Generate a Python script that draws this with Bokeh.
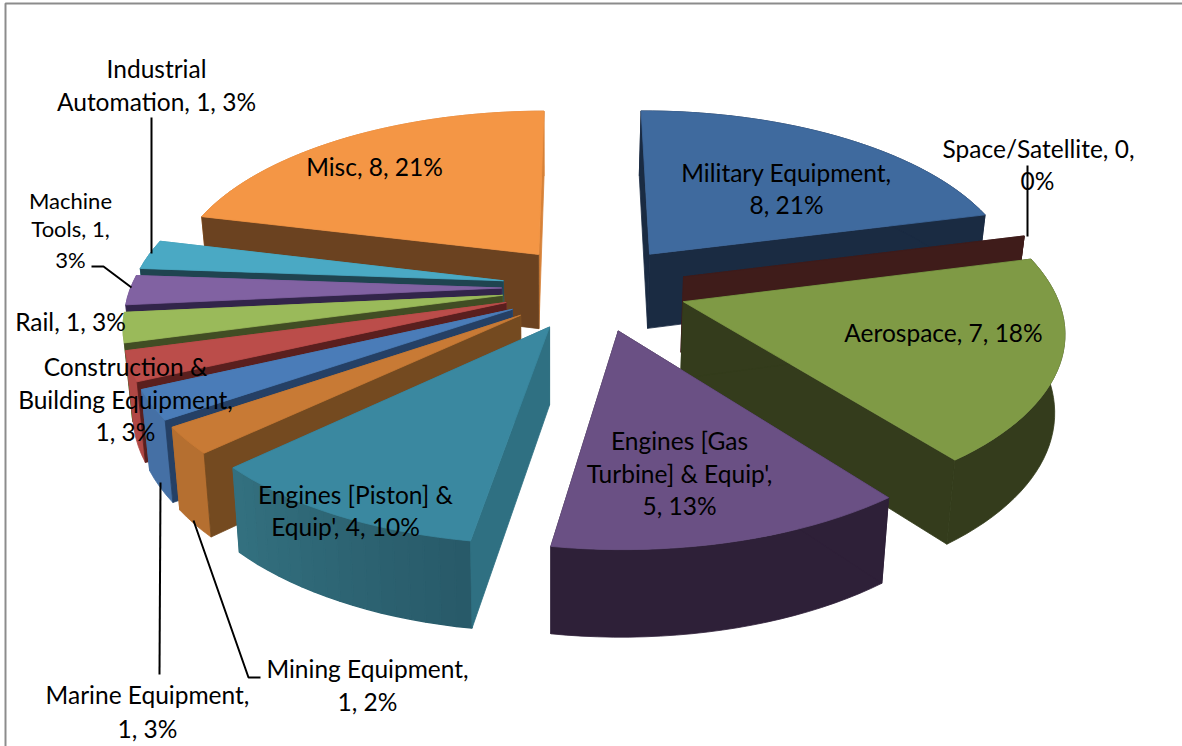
import math
from bokeh.plotting import figure
from bokeh.models import ColumnDataSource, Range1d
from bokeh.core.properties import value
from bokeh.embed import file_html
from bokeh.resources import INLINE

# Market split, clockwise from twelve o'clock
categories = ["Military Equipment", "Space/Satellite", "Aerospace",
              "Engines [Gas Turbine] & Equip'", "Engines [Piston] & Equip'",
              "Mining Equipment", "Marine Equipment",
              "Construction & Building Equipment", "Rail", "Machine Tools",
              "Industrial Automation", "Misc"]
amounts = [7.85, 0.0, 6.9, 4.85, 3.9, 0.9, 1.0, 1.0, 1.0, 1.0, 1.0, 7.85]

top_colors = ["#3f6a9e", "#a04a48", "#7f9a45", "#6a5084", "#3a88a0", "#c87a35",
              "#4a7cb8", "#bb4d4a", "#9aba5a", "#8162a2", "#4aa9c4", "#f49645"]
cut_colors = ["#1a2b42", "#3f1c1a", "#343c1c", "#2e2038", "#2f7082", "#744a20",
              "#254065", "#5a1f1e", "#414d24", "#32254a", "#1f4450", "#6b4220"]
rim_left = ["#1a2b42", "#3f1c1a", "#343c1c", "#2e2038", "#33707f", "#b56f30",
            "#4570a5", "#b04845", "#8aa84f", "#6f5590", "#3f94ac", "#d78238"]
rim_right = ["#1a2b42", "#3f1c1a", "#343c1c", "#2e2038", "#285a69", "#b56f30",
             "#4570a5", "#b04845", "#8aa84f", "#6f5590", "#3f94ac", "#d78238"]

# Label lines: text, centre x, centre y, font size
label_lines = [
    ("Industrial", 156, 68, 24.5), ("Automation, 1, 3%", 156, 101, 24.5),
    ("Machine", 70, 200, 22), ("Tools, 1,", 70, 228, 22), ("3%", 70, 259, 22),
    ("Rail, 1, 3%", 70, 321, 24.5),
    ("Construction &", 125, 366, 24.5), ("Building Equipment,", 125, 399, 24.5),
    ("1, 3%", 125, 431, 24.5),
    ("Engines [Piston] &", 355, 494, 24.5), ("Equip', 4, 10%", 345, 526, 24.5),
    ("Marine Equipment,", 147, 694, 24.5), ("1, 3%", 147, 728, 24.5),
    ("Mining Equipment,", 367, 668, 24.5), ("1, 2%", 367, 701, 24.5),
    ("Misc, 8, 21%", 374, 166, 24.5),
    ("Military Equipment,", 786, 172, 24.5), ("8, 21%", 786, 204, 24.5),
    ("Space/Satellite, 0,", 1038, 148, 24.5), ("0%", 1037, 180, 24.5),
    ("Aerospace, 7, 18%", 943, 332, 24.5),
    ("Engines [Gas", 679, 440, 24.5), ("Turbine] & Equip',", 679, 473, 24.5),
    ("5, 13%", 679, 505, 24.5),
]
leaders_x = [[151, 151], [91, 103, 131], [1027, 1027], [160, 159], [193, 248, 260]]
leaders_y = [[117, 253], [266, 266, 287], [165, 236], [482, 674], [520, 677, 677]]

# Perspective camera for the tilted disc
CX, CY = 594, 287
RX, RY = 371, 173
TILT = 0.145
EXPLODE = 0.25
TURN = -0.3
VANISH_X = 550
DEPTH, DEPTH_GROW = 76, 9.3


def project(u, v, lower=False):
    s = 1 / (1 - TILT * v)
    x = CX + RX * u * s
    y = CY + RY * v * s
    if lower:
        x = VANISH_X + (x - VANISH_X) * 0.98
        y += DEPTH + DEPTH_GROW * v
    return x, y


def mix(a, b, t):
    ca = [int(a[i:i + 2], 16) for i in (1, 3, 5)]
    cb = [int(b[i:i + 2], 16) for i in (1, 3, 5)]
    return "#%02x%02x%02x" % tuple(round(p + (q - p) * t) for p, q in zip(ca, cb))


faces = {"xs": [], "ys": [], "color": [], "edge": []}


def add(points, color, edge=0.8):
    faces["xs"].append([pt[0] for pt in points])
    faces["ys"].append([pt[1] for pt in points])
    faces["color"].append(color)
    faces["edge"].append(edge)


total = sum(amounts)
slices = []
running = 0
for i, amount in enumerate(amounts):
    start = running / total * 2 * math.pi + math.radians(TURN)
    running += amount
    end = running / total * 2 * math.pi + math.radians(TURN)
    slices.append((i, start, end))

for i, a, b in sorted(slices, key=lambda item: -math.cos((item[1] + item[2]) / 2)):
    mid = (a + b) / 2
    ou, ov = EXPLODE * math.sin(mid), -EXPLODE * math.cos(mid)
    n = max(2, int((b - a) / math.radians(2)))
    thetas = [a + (b - a) * j / n for j in range(n + 1)]
    rim = [(ou + math.sin(t), ov - math.cos(t)) for t in thetas]

    add([project(ou, ov), project(*rim[-1]), project(*rim[-1], True), project(ou, ov, True)],
        rim_left[i])

    # Outer wall: one polygon when flat, thin overlapping strips when shaded
    if rim_left[i] == rim_right[i]:
        add([project(*r) for r in rim] + [project(*r, True) for r in reversed(rim)], rim_left[i])
    else:
        strips = []
        for j in range(n):
            r0, r1 = rim[j], rim[j + 1]
            strips.append(([project(*r0), project(*r1), project(*r1, True), project(*r0, True)],
                           mix(rim_right[i], rim_left[i], j / max(n - 1, 1))))
        for pts, col in strips:
            add(pts, col, 1.4)

    add([project(ou, ov), project(*rim[0]), project(*rim[0], True), project(ou, ov, True)],
        cut_colors[i])
    if amounts[i] > 0:
        add([project(ou, ov)] + [project(*r) for r in rim], top_colors[i])

p = figure(width=1182, height=746, output_backend="svg", toolbar_location=None,
           x_range=Range1d(0, 1182), y_range=Range1d(746, 0),
           x_axis_type=None, y_axis_type=None, min_border=0,
           outline_line_color=None, background_fill_color="white",
           border_fill_color="white")
p.grid.visible = False

# Chart frame
p.line([5, 5, 1182], [746, 3, 3], line_color="#8c8c8c", line_width=2)

source = ColumnDataSource(faces)
p.patches("xs", "ys", source=source, fill_color="color", line_color="color", line_width="edge")

p.multi_line(leaders_x, leaders_y, line_color="black", line_width=2)

for size in sorted({row[3] for row in label_lines}):
    rows = [row for row in label_lines if row[3] == size]
    p.text([r[1] for r in rows], [r[2] for r in rows], text=[r[0] for r in rows],
           text_font=value("Lato"), text_font_size=f"{size}px", text_color="black",
           text_align="center", text_baseline="middle")

open("out.html", "w").write(file_html(p, INLINE))
